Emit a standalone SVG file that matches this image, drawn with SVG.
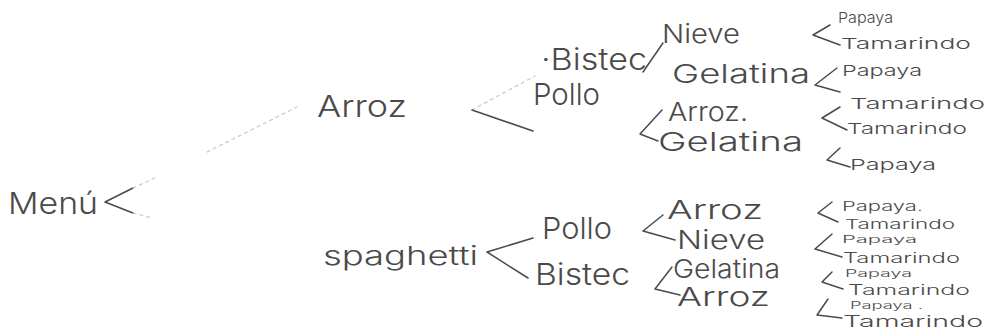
<svg xmlns="http://www.w3.org/2000/svg" width="987" height="331" viewBox="0 0 987 331">
  <style>
    text { font-family: "Inter", "Open Sans", "Liberation Sans", sans-serif; font-weight: 300; fill: #4a4a4a; }
    .big { font-size: 30px; }
    .mid { font-size: 26px; }
    .sm { font-size: 15px; }
    .s13 { font-size: 13px; }
    .s14 { font-size: 14px; }
    .s16 { font-size: 16px; }
    .xs { font-size: 10px; }
    .link { stroke: #4a4a4a; stroke-width: 1.5; fill: none; stroke-linecap: round; stroke-linejoin: round; }
    .faint { stroke: #c8c8c8; stroke-width: 1.2; fill: none; stroke-dasharray: 3 4; stroke-linecap: round; }
  </style>
  <rect width="987" height="331" fill="#ffffff"/>

  <!-- branching strokes -->
  <g id="connectors">
    <!-- Menú fork -->
    <path class="link" d="M133,188 L105,202 L133,213"/>
    <path class="faint" d="M133,188 L155,178 M133,213 L152,218"/>
    <path class="faint" d="M207,152 L297,107"/>
    <!-- Arroz fork -->
    <path class="faint" d="M472,110 L535,76"/>
    <path class="link" d="M472,110 L533,131"/>
    <!-- Bistec to Nieve -->
    <path class="link" d="M643,72 L663,43"/>
    <!-- Pollo fork -->
    <path class="link" d="M662,110 L640,134 L658,141"/>
    <!-- dessert forks, upper branch -->
    <path class="link" d="M830,25 L813,35 L840,45"/>
    <path class="link" d="M837,68 L815,85 L840,92"/>
    <path class="link" d="M840,107 L822,118 L847,130"/>
    <path class="link" d="M840,148 L827,160 L850,167"/>
    <!-- spaghetti fork -->
    <path class="link" d="M533,238 L487,252 L528,278"/>
    <!-- Pollo / Bistec forks, lower branch -->
    <path class="link" d="M663,215 L643,231 L675,240"/>
    <path class="link" d="M672,267 L655,289 L680,295"/>
    <!-- dessert forks, lower branch -->
    <path class="link" d="M832,202 L818,213 L838,222"/>
    <path class="link" d="M832,234 L815,249 L842,257"/>
    <path class="link" d="M832,272 L822,282 L843,289"/>
    <path class="link" d="M828,299 L817,315 L842,318"/>
  </g>

  <g id="menu"><text class="big" x="8" y="214" textLength="90" lengthAdjust="spacingAndGlyphs">Menú</text></g>

  <g id="arroz"><text class="big" x="317" y="117" textLength="90" lengthAdjust="spacingAndGlyphs">Arroz</text></g>
  <g id="arroz-bistec"><text class="big" x="541" y="70" textLength="106" lengthAdjust="spacingAndGlyphs">·Bistec</text></g>
  <g id="arroz-pollo"><text class="big" x="533" y="105" textLength="67" lengthAdjust="spacingAndGlyphs">Pollo</text></g>

  <g id="bistec-nieve"><text class="mid" x="662" y="43" textLength="78" lengthAdjust="spacingAndGlyphs">Nieve</text></g>
  <g id="bistec-gelatina"><text class="mid" x="672" y="83" textLength="138" lengthAdjust="spacingAndGlyphs">Gelatina</text></g>
  <g id="pollo-arroz"><text class="mid" x="668" y="121" textLength="80" lengthAdjust="spacingAndGlyphs">Arroz.</text></g>
  <g id="pollo-gelatina"><text class="mid" x="658" y="151" textLength="145" lengthAdjust="spacingAndGlyphs">Gelatina</text></g>

  <g id="postres-1">
    <text class="sm" x="838" y="23" textLength="55" lengthAdjust="spacingAndGlyphs">Papaya</text>
    <text class="sm" x="841" y="49" textLength="130" lengthAdjust="spacingAndGlyphs">Tamarindo</text>
  </g>
  <g id="postres-2">
    <text class="sm" x="842" y="76" textLength="80" lengthAdjust="spacingAndGlyphs">Papaya</text>
    <text class="sm" x="850" y="109" textLength="135" lengthAdjust="spacingAndGlyphs">Tamarindo</text>
  </g>
  <g id="postres-3">
    <text class="sm" x="847" y="134" textLength="120" lengthAdjust="spacingAndGlyphs">Tamarindo</text>
  </g>
  <g id="postres-4">
    <text class="sm" x="850" y="170" textLength="86" lengthAdjust="spacingAndGlyphs">Papaya</text>
  </g>

  <g id="spaghetti"><text class="mid" x="323" y="265" textLength="155" lengthAdjust="spacingAndGlyphs">spaghetti</text></g>
  <g id="spaghetti-pollo"><text class="big" x="542" y="239" textLength="70" lengthAdjust="spacingAndGlyphs">Pollo</text></g>
  <g id="spaghetti-bistec"><text class="big" x="535" y="285" textLength="95" lengthAdjust="spacingAndGlyphs">Bistec</text></g>

  <g id="pollo-arroz-2"><text class="mid" x="667" y="219" textLength="96" lengthAdjust="spacingAndGlyphs">Arroz</text></g>
  <g id="pollo-nieve"><text class="mid" x="677" y="249" textLength="88" lengthAdjust="spacingAndGlyphs">Nieve</text></g>
  <g id="bistec-gelatina-2"><text class="mid" x="673" y="278" textLength="107" lengthAdjust="spacingAndGlyphs">Gelatina</text></g>
  <g id="bistec-arroz"><text class="mid" x="677" y="306" textLength="93" lengthAdjust="spacingAndGlyphs">Arroz</text></g>

  <g id="postres-5">
    <text class="s13" x="842" y="211" textLength="81" lengthAdjust="spacingAndGlyphs">Papaya.</text>
    <text class="s13" x="845" y="229" textLength="110" lengthAdjust="spacingAndGlyphs">Tamarindo</text>
  </g>
  <g id="postres-6">
    <text class="xs" x="842" y="243" textLength="75" lengthAdjust="spacingAndGlyphs">Papaya</text>
    <text class="s14" x="843" y="263" textLength="117" lengthAdjust="spacingAndGlyphs">Tamarindo</text>
  </g>
  <g id="postres-7">
    <text class="xs" x="845" y="277" textLength="67" lengthAdjust="spacingAndGlyphs">Papaya</text>
    <text class="s14" x="848" y="295" textLength="122" lengthAdjust="spacingAndGlyphs">Tamarindo</text>
  </g>
  <g id="postres-8">
    <text class="xs" x="850" y="309" textLength="73" lengthAdjust="spacingAndGlyphs">Papaya .</text>
    <text class="s16" x="843" y="327" textLength="140" lengthAdjust="spacingAndGlyphs">Tamarindo</text>
  </g>
</svg>
